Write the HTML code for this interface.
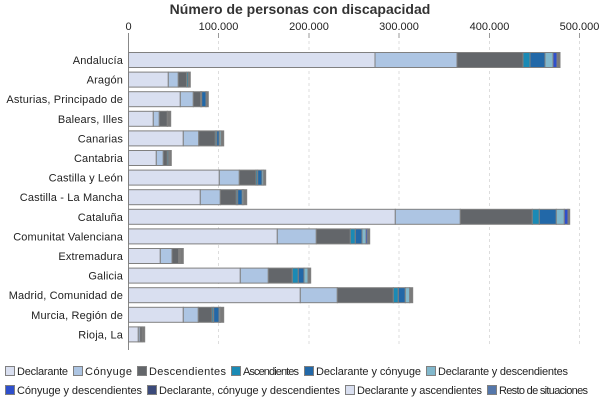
<!DOCTYPE html>
<html><head><meta charset="utf-8"><style>
html,body{margin:0;padding:0;background:#fff;}
svg{display:block;font-family:"Liberation Sans",sans-serif;}
</style></head><body>
<svg width="600" height="400" viewBox="0 0 600 400" xmlns="http://www.w3.org/2000/svg">
<text x="300" y="14" text-anchor="middle" font-size="14" font-weight="bold" fill="#333">Número de personas con discapacidad</text>
<g font-size="11" fill="#222" text-anchor="middle">
<text x="128.5" y="30">0</text><text x="218.5" y="30">100.000</text><text x="309" y="30">200.000</text><text x="399" y="30">300.000</text><text x="489.5" y="30">400.000</text><text x="579.5" y="30">500.000</text>
</g>
<g stroke="#ddd" stroke-dasharray="3,3" stroke-width="1">
<line x1="218.5" y1="35" x2="218.5" y2="346"/><line x1="309" y1="35" x2="309" y2="346"/><line x1="399" y1="35" x2="399" y2="346"/><line x1="489.5" y1="35" x2="489.5" y2="346"/><line x1="579.5" y1="35" x2="579.5" y2="346"/>
</g>
<g stroke="#999" stroke-width="1"><line x1="218.5" y1="33" x2="218.5" y2="38"/><line x1="309" y1="33" x2="309" y2="38"/><line x1="399" y1="33" x2="399" y2="38"/><line x1="489.5" y1="33" x2="489.5" y2="38"/><line x1="579.5" y1="33" x2="579.5" y2="38"/></g>
<line x1="128.5" y1="33" x2="128.5" y2="350" stroke="#888"/>
<g id="bars" stroke="#808080" stroke-width="1"></g>
<g id="labels" font-size="11" fill="#222" text-anchor="end" letter-spacing="0.15"></g>
<g id="legend" font-size="11" fill="#222"></g>
</svg>
<script>
var C=["#d9dff0","#adc5e3","#63666a","#1a8ab5","#2268a8","#82b8cc","#2e4fcc","#3b4a7a","#d9dff0","#5577aa"];
var rows=[
["Andalucía",[375,457,523,530,545,553,557,560]],
["Aragón",[168.3,178.3,186.7,188.3,190.3]],
["Asturias, Principado de",[180.3,193.3,200.7,201.7,206,208.3]],
["Balears, Illes",[153.3,159.3,167.3,167.3,167.3,167.3,167.3,167.3,167.3,170.7]],
["Canarias",[183.3,198.7,215.3,216.7,219.3,221,223.7]],
["Cantabria",[156.3,163.3,167.3,168.7,169.7,171.3]],
["Castilla y León",[219.3,239.3,256,257.7,262,263.7,265.7]],
["Castilla - La Mancha",[200.3,220.3,236.3,237.7,242.3,243.7,246.7]],
["Cataluña",[395.3,460.3,532.3,539.3,556.3,564.3,568,569.7]],
["Comunitat Valenciana",[277.3,316.3,350.3,355.3,362,366,367.7,369.7]],
["Extremadura",[160.3,172,178.7,179.3,180.3,183.3]],
["Galicia",[240.3,268.3,292.3,298.3,304,308,310.7]],
["Madrid, Comunidad de",[300.3,337.3,393.3,398.3,405.3,409.7,412.7]],
["Murcia, Región de",[183.3,198.3,212,213.7,219,220.3,223.7]],
["Rioja, La",[138.3,140,142,144.7]]];
var NS="http://www.w3.org/2000/svg",b=document.getElementById("bars"),l=document.getElementById("labels");
rows.forEach(function(r,i){var cy=60+i*19.6,y=cy-7.5,x0=128.5;
 r[1].forEach(function(e,j){if(e<=x0)return;var rc=document.createElementNS(NS,"rect");
  var col=(j==r[1].length-1&&j>=3)?"#7a7a7a":C[j];
  rc.setAttribute("x",x0);rc.setAttribute("y",y);rc.setAttribute("width",e-x0);rc.setAttribute("height",15);rc.setAttribute("fill",col);b.appendChild(rc);x0=e;});
 var t=document.createElementNS(NS,"text");t.setAttribute("x",123);t.setAttribute("y",cy+4);t.textContent=r[0];l.appendChild(t);});
var lg=[[5,366,0,"Declarante",51],[73,366,1,"Cónyuge",47],[137,366,2,"Descendientes",77],[231,366,3,"Ascendientes",56],[304,366,4,"Declarante y cónyuge",105],[426,366,5,"Declarante y descendientes",130],
[5,385,6,"Cónyuge y descendientes",125],[147,385,7,"Declarante, cónyuge y descendientes",181],[345,385,8,"Declarante y ascendientes",125],[487,385,9,"Resto de situaciones",89]];
var g=document.getElementById("legend");
lg.forEach(function(a){var rc=document.createElementNS(NS,"rect");rc.setAttribute("x",a[0]+0.5);rc.setAttribute("y",a[1]+0.5);rc.setAttribute("width",9);rc.setAttribute("height",9);rc.setAttribute("fill",C[a[2]]);rc.setAttribute("stroke","#808080");g.appendChild(rc);
 var t=document.createElementNS(NS,"text");t.setAttribute("x",a[0]+12);t.setAttribute("y",a[1]+9);t.setAttribute("textLength",a[4]);t.textContent=a[3];g.appendChild(t);});
</script>
</body></html>
